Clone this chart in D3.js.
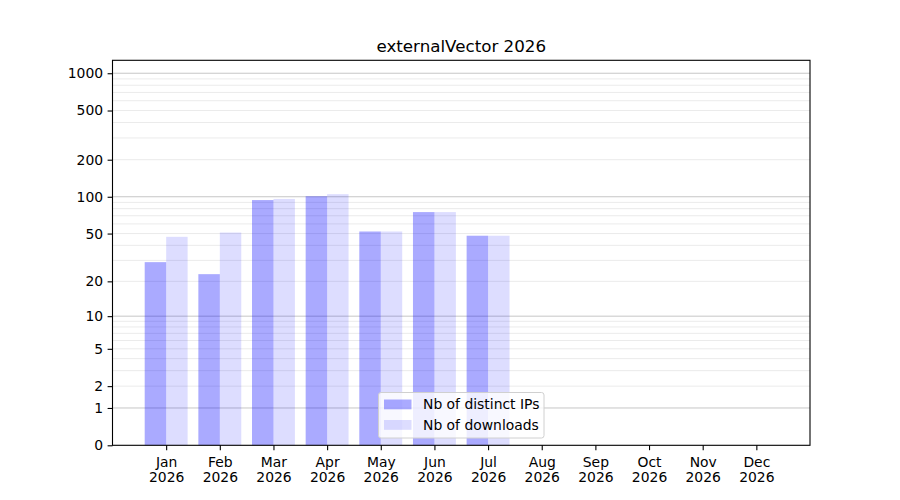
<!DOCTYPE html>
<html>
<head>
<meta charset="utf-8">
<script src="https://cdn.jsdelivr.net/npm/d3@7"></script>
<style>
  body { margin: 0; background: #fff; }
  text { font-family: "DejaVu Sans", sans-serif; fill: #000; }
</style>
</head>
<body>
<svg width="900" height="500"></svg>
<script>
const title = 'externalVector 2026';
const months = ['Jan', 'Feb', 'Mar', 'Apr', 'May', 'Jun', 'Jul', 'Aug', 'Sep', 'Oct', 'Nov', 'Dec'];
const year = '2026';
const distinctIPs = [29, 23, 94, 101, 52, 75, 48];
const downloads = [47, 51, 96, 105, 52, 75, 48];
const yTicks = [0, 1, 2, 5, 10, 20, 50, 100, 200, 500, 1000];
const seriesNames = ['Nb of distinct IPs', 'Nb of downloads'];

let width = 900;
let height = 500;
let plotLeft = 112.5, plotRight = 810, plotTop = 60.3, plotBottom = 445.3;

let svg = d3.select('svg')
            .attr('width', width)
            .attr('height', height);

// log10(1+x) style axis, same as symlog with constant 1
let yScale = d3.scaleSymlog().constant(1)
            .domain([0, 1272])
            .range([plotBottom, plotTop]);

let xScale = d3.scaleLinear()
            .domain([-1, 12])
            .range([plotLeft, plotRight]);

// grid, minor first then major
let grid = svg.append('g');
let minor = [];
[1, 10, 100, 1000].forEach(dec => {
    for (let m = 2; m <= 9; m++) {
        if (dec * m <= 1272) minor.push(dec * m);
    }
});
grid.selectAll('line.minor')
    .data(minor)
    .enter()
    .append('line')
    .attr('class', 'minor')
    .attr('x1', plotLeft).attr('x2', plotRight)
    .attr('y1', d => yScale(d)).attr('y2', d => yScale(d))
    .attr('stroke', '#ebebeb')
    .attr('stroke-width', 1);
grid.selectAll('line.major')
    .data([1, 10, 100, 1000])
    .enter()
    .append('line')
    .attr('class', 'major')
    .attr('x1', plotLeft).attr('x2', plotRight)
    .attr('y1', d => yScale(d)).attr('y2', d => yScale(d))
    .attr('stroke', '#c6c6c6')
    .attr('stroke-width', 1);

let barW = 0.4;
let bars = svg.append('g');
bars.selectAll('rect.ips')
    .data(distinctIPs)
    .enter()
    .append('rect')
    .attr('class', 'ips')
    .attr('x', (d, i) => xScale(i - barW))
    .attr('width', xScale(barW) - xScale(0))
    .attr('y', d => yScale(d))
    .attr('height', d => yScale(0) - yScale(d))
    .attr('fill', 'blue')
    .attr('fill-opacity', 0.333);
bars.selectAll('rect.dl')
    .data(downloads)
    .enter()
    .append('rect')
    .attr('class', 'dl')
    .attr('x', (d, i) => xScale(i))
    .attr('width', xScale(barW) - xScale(0))
    .attr('y', d => yScale(d))
    .attr('height', d => yScale(0) - yScale(d))
    .attr('fill', 'blue')
    .attr('fill-opacity', 0.133);

// frame
svg.append('rect')
    .attr('x', plotLeft).attr('y', plotTop)
    .attr('width', plotRight - plotLeft).attr('height', plotBottom - plotTop)
    .attr('fill', 'none')
    .attr('stroke', '#000')
    .attr('stroke-width', 1.1);

// y axis
let yAxis = d3.axisLeft(yScale)
            .tickValues(yTicks)
            .tickFormat(d3.format('d'))
            .tickSize(4.9)
            .tickPadding(4.5);
let yg = svg.append('g')
    .attr('transform', `translate(${plotLeft}, 0)`)
    .call(yAxis);
yg.select('.domain').remove();
yg.selectAll('.tick line').attr('stroke', '#000').attr('stroke-width', 1.1);
yg.selectAll('.tick text')
    .attr('font-size', '13.9px')
    .attr('font-family', 'DejaVu Sans');

// x axis, two line labels
let xAxis = d3.axisBottom(xScale)
            .tickValues(d3.range(months.length))
            .tickFormat('')
            .tickSize(4.9);
let xg = svg.append('g')
    .attr('transform', `translate(0, ${plotBottom})`)
    .call(xAxis);
xg.select('.domain').remove();
xg.selectAll('.tick line').attr('stroke', '#000').attr('stroke-width', 1.1);
xg.selectAll('.tick').each(function(d) {
    let t = d3.select(this).append('text')
        .attr('text-anchor', 'middle')
        .attr('font-size', '13.9px')
        .attr('font-family', 'DejaVu Sans')
        .attr('fill', '#000');
    t.append('tspan').attr('x', 0).attr('y', 21.5).text(months[d]);
    t.append('tspan').attr('x', 0).attr('y', 37).text(year);
});

// title
svg.append('text')
    .attr('x', (plotLeft + plotRight) / 2)
    .attr('y', 52)
    .attr('text-anchor', 'middle')
    .attr('font-size', '16.7px')
    .text(title);

// legend
let lg = svg.append('g');
lg.append('rect')
    .attr('x', 378.5).attr('y', 392.5)
    .attr('width', 165.5).attr('height', 45.5)
    .attr('rx', 2.5)
    .attr('fill', '#fff').attr('fill-opacity', 0.8)
    .attr('stroke', '#d0d0d0').attr('stroke-width', 1);
let opac = [0.333, 0.133];
seriesNames.forEach((name, i) => {
    lg.append('rect')
        .attr('x', 384).attr('y', 399.5 + i * 20.5)
        .attr('width', 27.5).attr('height', 9.8)
        .attr('fill', 'blue').attr('fill-opacity', opac[i]);
    lg.append('text')
        .attr('x', 423)
        .attr('y', 409 + i * 20.5)
        .attr('font-size', '13.9px')
        .text(name);
});
</script>
</body>
</html>
